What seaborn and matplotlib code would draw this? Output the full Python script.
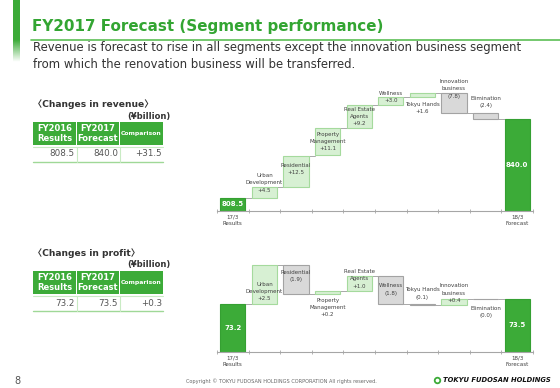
"""FY2017 forecast slide: segment waterfall charts for revenue and profit."""

import numpy as np
import pandas as pd
import matplotlib
matplotlib.use("Agg")
import matplotlib.pyplot as plt
from matplotlib.patches import Rectangle
import seaborn as sns

sns.set_theme(style="white")
plt.rcParams["font.family"] = ["DejaVu Sans", "Noto Sans CJK JP"]

# --- data ---
categories = ["17/3", "Urban Development", "Residential", "Property Management",
              "Real Estate Agents", "Wellness", "Tokyu Hands", "Innovation business",
              "Elimination", "18/3"]
step_labels = ["Urban\nDevelopment", "Residential", "Property\nManagement",
               "Real Estate\nAgents", "Wellness", "Tokyu Hands", "Innovation\nbusiness",
               "Elimination"]
tick_labels = ["17/3\nResults", "18/3\nForecast"]

rev_start = 808.5
rev_changes = [4.5, 12.5, 11.1, 9.2, 3.0, 1.6, -7.8, -2.4]
rev_end = 840.0

profit_start = 73.2
profit_changes = [2.5, -1.9, 0.2, 1.0, -1.8, -0.1, 0.4, -0.0]
profit_end = 73.5

table_header = ["FY2016\nResults", "FY2017\nForecast", "Comparison"]
rev_table = ["808.5", "840.0", "+31.5"]
profit_table = ["73.2", "73.5", "+0.3"]

# label offsets (px, up is positive) from the middle of each step box
rev_label_dy = [9.5, 2, 0, 0, 4, -12.5, 14, 13.5]
profit_label_dy = [-7.5, 3.5, -15, 4.5, 0, 11, 9, -13]

GREEN = "#3cab38"
TITLE_GREEN = "#33a532"
POS_FILL, POS_EDGE = "#d7f0d3", "#a5da9d"
NEG_FILL, NEG_EDGE = "#d9d9d9", "#a3a3a3"
AXIS_GRAY = "#a6a6a6"
TEXT = "#333333"

W, H = 560, 388
fig = plt.figure(figsize=(W / 100, H / 100), dpi=100)

# background axes in pixel units for the slide decorations
bg = fig.add_axes([0, 0, 1, 1])
bg.axis("off")

# fading green bar on the left
grad = np.ones((100, 1, 4))
grad[..., 0], grad[..., 1], grad[..., 2] = 0x3c / 255, 0xab / 255, 0x38 / 255
alpha = np.clip((62 - np.linspace(0, 62, 100)) / 22, 0, 1)
grad[:, 0, 3] = alpha
bg.imshow(grad, extent=(12.5, 19, 62, 0), aspect="auto", interpolation="bilinear", zorder=1)
bg.set_xlim(0, W)
bg.set_ylim(H, 0)

bg.text(32, 26, "FY2017 Forecast (Segment performance)", color=TITLE_GREEN,
        fontsize=10.9, fontweight="bold", va="center", ha="left")
bg.plot([31, W], [40, 40], color="#5cbf55", lw=1.2)
bg.text(33, 47, "Revenue is forecast to rise in all segments except the innovation business segment",
        fontsize=8.4, color=TEXT, va="center")
bg.text(33, 64, "from which the renovation business will be transferred.",
        fontsize=8.4, color=TEXT, va="center")


def draw_table(title, title_y, values):
    bg.text(33, title_y, title, fontsize=6.6, fontweight="bold", color=TEXT, va="center")
    bg.text(170, title_y + 12, "(¥billion)", fontsize=6, fontweight="bold", color=TEXT,
            va="center", ha="right")
    top = title_y + 18
    cols = [(33, 76), (77, 119), (120, 163)]
    for (x0, x1), head, val in zip(cols, table_header, values):
        bg.add_patch(Rectangle((x0, top), x1 - x0, 23, facecolor=GREEN, edgecolor="none"))
        fs = 4.4 if head == "Comparison" else 6
        bg.text((x0 + x1) / 2, top + 11.5, head, color="white", fontsize=fs, fontweight="bold",
                ha="center", va="center", linespacing=1.25)
        bg.text(x1 - 1, top + 32, val, color="#555555", fontsize=6.3, ha="right", va="center")
    bg.plot([33, 163], [top + 24.5, top + 24.5], color="#c9ebc4", lw=0.8)
    bg.plot([33, 163], [top + 40, top + 40], color="#9fd897", lw=1.0)
    for xs in (76.5, 119.5):
        bg.plot([xs, xs], [top + 24.5, top + 40], color="#c9ebc4", lw=0.8)


draw_table("〈Changes in revenue〉", 104, rev_table)
draw_table("〈Changes in profit〉", 253, profit_table)


def waterfall(ax, start, changes, end, label_dy, base, px_per_unit, axis_px_h):
    levels = start + np.cumsum(changes)
    prev = np.concatenate([[start], levels[:-1]])
    bottoms = [0] + list(np.minimum(prev, levels)) + [0]
    heights = [start] + list(np.abs(changes)) + [end]
    faces = [GREEN] + [POS_FILL if c > 0 else NEG_FILL for c in changes] + [GREEN]
    edges = ["#35a032"] + [POS_EDGE if c > 0 else NEG_EDGE for c in changes] + ["#35a032"]
    df = pd.DataFrame({"cat": categories, "height": heights})
    sns.barplot(data=df, x="cat", y="height", order=categories, ax=ax, errorbar=None,
                color=GREEN, saturation=1, width=0.8, bottom=np.array(bottoms),
                facecolor=faces, edgecolor=edges, linewidth=0.8)
    ax.set_ylim(base, base + axis_px_h / px_per_unit)
    ax.set_xlim(-0.5, len(categories) - 0.5)

    # connectors between bars
    running = [start] + list(levels)
    for i, lvl in enumerate(running):
        ax.plot([i + 0.4, i + 0.6], [lvl, lvl], color="#9a9a9a", lw=0.6, zorder=0)

    # step labels
    for i, (c, name, dy) in enumerate(zip(changes, step_labels, label_dy), start=1):
        txt = f"+{abs(c):.1f}" if c > 0 else f"({abs(c):.1f})"
        mid = bottoms[i] + heights[i] / 2
        ax.annotate(f"{name}\n{txt}", xy=(i, mid), xytext=(0, dy * 0.72),
                    textcoords="offset points", ha="center", va="center",
                    fontsize=4, linespacing=1.55, color="#404040")
    # totals
    for i, v in ((0, start), (len(categories) - 1, end)):
        ax.text(i, (base + v) / 2, f"{v:.1f}", color="white", fontsize=5,
                fontweight="bold", ha="center", va="center")

    for s in ("top", "left", "right"):
        ax.spines[s].set_visible(False)
    ax.spines["bottom"].set_color(AXIS_GRAY)
    ax.spines["bottom"].set_linewidth(0.8)
    ax.set_xticks([0, len(categories) - 1], tick_labels)
    ax.set_xticks(np.arange(-0.5, len(categories), 1), minor=True)
    ax.tick_params(axis="x", which="major", length=0, pad=2.5, labelsize=4, labelcolor="#404040")
    ax.tick_params(axis="x", which="minor", length=2.5, direction="inout", color=AXIS_GRAY,
                   width=0.6, bottom=True)
    for lab in ax.get_xticklabels():
        lab.set_linespacing(1.5)
    ax.set_yticks([])
    ax.set_xlabel("")
    ax.set_ylabel("")


ax_rev = fig.add_axes([217 / W, (H - 211) / H, 316 / W, 136 / H])
ax_rev.patch.set_alpha(0)
waterfall(ax_rev, rev_start, rev_changes, rev_end, rev_label_dy, 803.3, 2.5, 136)

ax_pro = fig.add_axes([217 / W, (H - 352) / H, 316 / W, 97 / H])
ax_pro.patch.set_alpha(0)
waterfall(ax_pro, profit_start, profit_changes, profit_end, profit_label_dy, 70.1, 15.6, 97)

# footer
bg.text(17, 381, "8", fontsize=7, color="#555555", ha="center", va="center")
bg.text(281, 381, "Copyright © TOKYU FUDOSAN HOLDINGS CORPORATION All rights reserved.",
        fontsize=3.6, color="#666666", ha="center", va="center")
bg.plot([437], [380], marker="o", markersize=4, markerfacecolor="white",
        markeredgecolor=GREEN, markeredgewidth=1.3)
bg.text(443, 380.5, "TOKYU FUDOSAN HOLDINGS", fontsize=4.9, fontweight="bold",
        fontstyle="italic", color="#111111", ha="left", va="center")

fig.savefig("out.png", dpi=100)
